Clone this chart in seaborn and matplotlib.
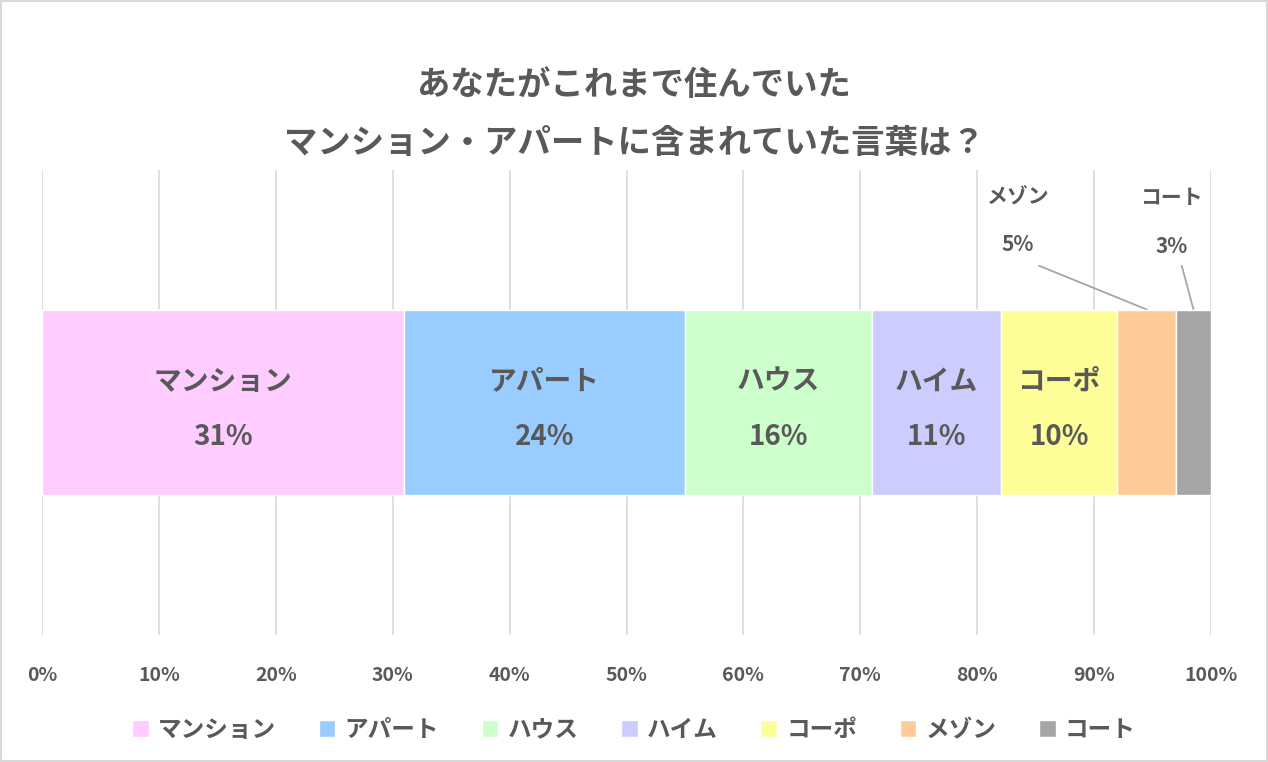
import matplotlib
matplotlib.use("Agg")
import matplotlib.pyplot as plt
import seaborn as sns
import numpy as np
from matplotlib.patches import Rectangle

categories = ["マンション", "アパート", "ハウス", "ハイム", "コーポ", "メゾン", "コート"]
values = [31, 24, 16, 11, 10, 5, 3]
colors = ["#FFCCFF", "#99CCFF", "#CCFFCC", "#CCCCFF", "#FFFF99", "#FFCC99", "#A6A6A6"]
tick_labels = [f"{t}%" for t in range(0, 101, 10)]

sns.set_theme(style="white", rc={"font.family": "Noto Sans CJK JP", "font.weight": "bold"})
txt = "#595959"
fig = plt.figure(figsize=(12.68, 7.62), dpi=100)
fig.patches.append(Rectangle((0.001, 0.001), 0.998, 0.998, transform=fig.transFigure,
                             fill=False, edgecolor="#D9D9D9", lw=1.5))
ax = fig.add_axes([42/1268, 1-635/762, (1211-42)/1268, (635-170)/762])

left = 0
for c, v, col in zip(categories, values, colors):
    ax.barh(0, v, left=left, height=0.398, color=col, label=c, zorder=3)
    cx = left + v/2
    if v >= 10:
        ax.text(cx, 0.045, c, ha="center", va="center", fontsize=20, fontweight="bold", color=txt, zorder=4)
        ax.text(cx, -0.075, f"{v}%", ha="center", va="center", fontsize=20, fontweight="bold", color=txt, zorder=4)
    left += v

cum = np.cumsum(values)
mx = cum[5] - values[5]/2
ax.text(83.5, 0.445, "メゾン", ha="center", va="center", fontsize=15, fontweight="bold", color=txt)
ax.text(83.5, 0.34, "5%", ha="center", va="center", fontsize=15, fontweight="bold", color=txt)
ax.plot([85.3, mx], [0.294, 0.2], color="#A6A6A6", lw=1.3)
kx = cum[6] - values[6]/2
ax.text(96.6, 0.44, "コート", ha="center", va="center", fontsize=15, fontweight="bold", color=txt)
ax.text(96.6, 0.335, "3%", ha="center", va="center", fontsize=15, fontweight="bold", color=txt)
ax.plot([97.5, kx], [0.294, 0.2], color="#A6A6A6", lw=1.3)

ax.set_xlim(0, 100)
ax.set_ylim(-0.5, 0.5)
ax.set_xticks(range(0, 101, 10))
ax.set_xticklabels(tick_labels, fontsize=14, color=txt, fontweight="bold")
ax.tick_params(axis="x", length=0, pad=22)
ax.set_yticks([])
ax.grid(axis="x", color="#D9D9D9", lw=1.2, zorder=0)
for s in ax.spines.values():
    s.set_visible(False)

fig.text(0.5, 1-85/762, "あなたがこれまで住んでいた", ha="center", va="center", fontsize=24, fontweight="bold", color=txt)
fig.text(0.5, 1-143/762, "マンション・アパートに含まれていた言葉は？", ha="center", va="center", fontsize=24, fontweight="bold", color=txt)

fig.legend(loc="center", bbox_to_anchor=(0.5, 1-730/762), ncol=7, frameon=False,
           prop={"size": 17, "weight": "bold"}, handlelength=0.7, handleheight=0.7,
           handletextpad=0.4, columnspacing=1.8, labelcolor=txt)
fig.savefig("out.png", dpi=100)
